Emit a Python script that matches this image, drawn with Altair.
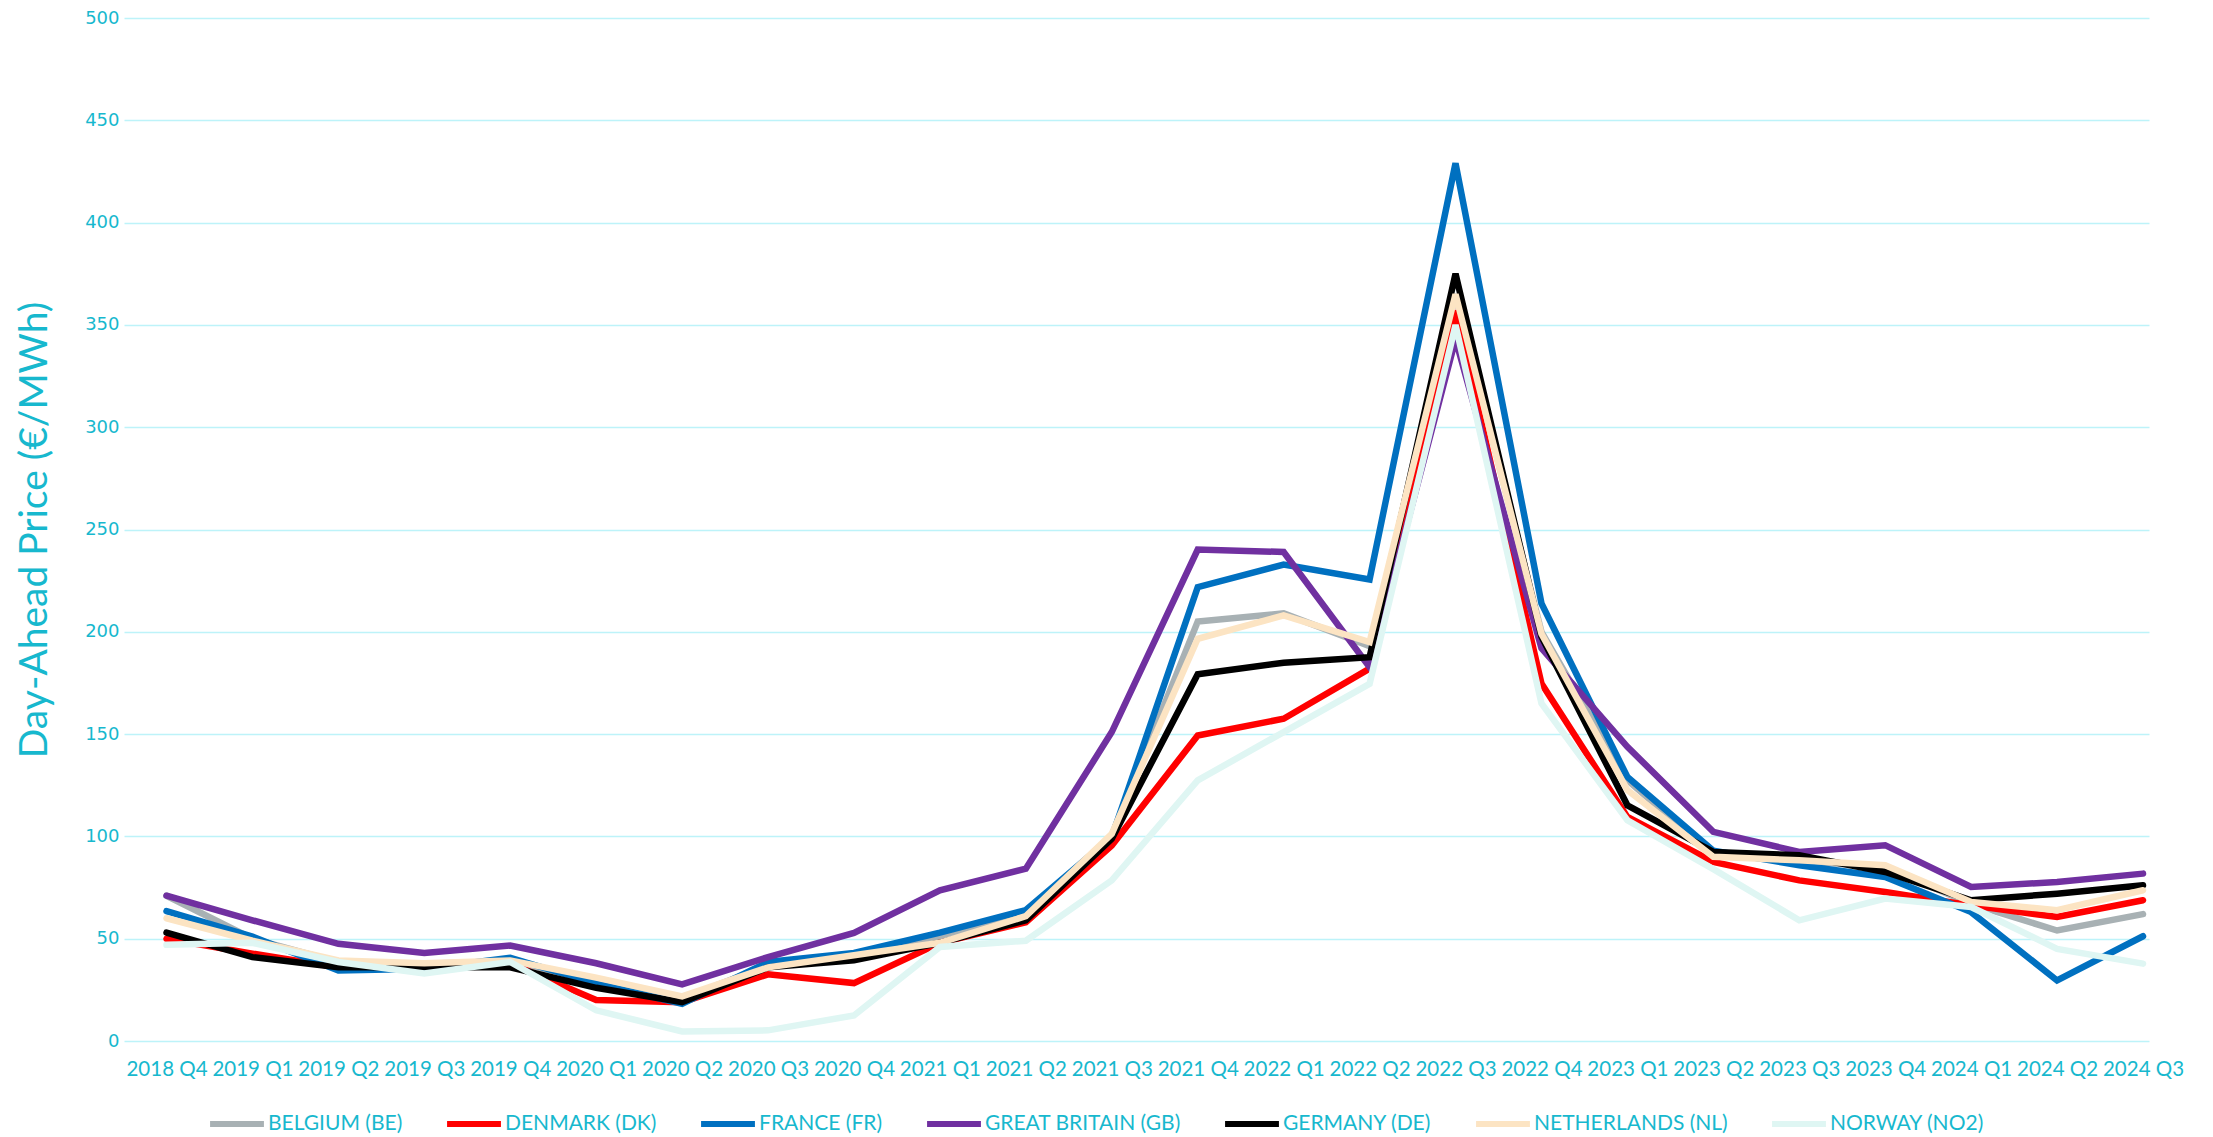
import json
import altair as alt
import pandas as pd

quarters = ["2018 Q4", "2019 Q1", "2019 Q2", "2019 Q3", "2019 Q4", "2020 Q1", "2020 Q2", "2020 Q3",
            "2020 Q4", "2021 Q1", "2021 Q2", "2021 Q3", "2021 Q4", "2022 Q1", "2022 Q2", "2022 Q3",
            "2022 Q4", "2023 Q1", "2023 Q2", "2023 Q3", "2023 Q4", "2024 Q1", "2024 Q2", "2024 Q3"]

belgium = [71, 50, 38.6, 37.8, 39, 29.6, 20.7, 37, 42, 50, 62, 100.5, 205, 209, 193, 365,
           200, 127.5, 91, 88, 85, 67, 54, 62]
denmark = [50, 42.7, 36, 36, 38, 20, 19, 32.6, 28.3, 48, 58, 95.6, 149.3, 157.5, 182, 357,
           174.7, 109.5, 87.5, 78.5, 72.8, 66.3, 60.6, 68.8]
france = [63.5, 51, 34.5, 35.3, 40.7, 28, 18.2, 38.6, 43, 53, 64, 99.7, 221.8, 232.9, 225.6, 429,
          213.9, 129, 93, 85.9, 80.2, 63, 29.6, 51.2]
great_britain = [71, 59, 47.5, 43, 46.7, 38, 27.7, 41, 52.8, 73.6, 84.2, 151, 240.2, 239, 182.7, 343,
                 192, 143.8, 102.2, 92.4, 95.7, 75.3, 77.7, 81.8]
germany = [53, 41, 36, 36, 36, 26, 19, 36, 39.4, 48, 59, 98.9, 179.2, 184.9, 187.6, 375,
           197.6, 115.2, 92.4, 90.8, 82.6, 68.8, 72, 76.1]
netherlands = [60, 49, 39.4, 38, 39.4, 31, 21.8, 36, 41.9, 48, 61, 101.3, 196.6, 208, 195, 365,
               199, 122.6, 90, 88.3, 85.9, 68, 63.9, 73.7]
norway = [47, 48, 38.6, 33, 38.6, 15, 4.7, 5.2, 12.5, 46, 49, 78.5, 127.4, 151, 174.6, 350,
          165, 107.9, 84, 59, 69.6, 65.5, 45, 37.8]

series_names = ["BELGIUM (BE)", "DENMARK (DK)", "FRANCE (FR)", "GREAT BRITAIN (GB)",
                "GERMANY (DE)", "NETHERLANDS (NL)", "NORWAY (NO2)"]
series_values = [belgium, denmark, france, great_britain, germany, netherlands, norway]
series_colors = ["#A8B1B4", "#FF0000", "#0070C0", "#7030A0", "#000000", "#FCE4C3", "#DFF6F3"]

rows = []
for name, vals in zip(series_names, series_values):
    for i, (q, v) in enumerate(zip(quarters, vals)):
        rows.append({"Index": i, "Quarter": q, "Price": v, "Country": name})
df = pd.DataFrame(rows)

TEXT = "#17B8CE"
GRID = "#BDF3F9"
FONT = "Lato, Open Sans, sans-serif"
label_expr = json.dumps(quarters) + "[datum.value]"

chart = alt.Chart(df).mark_line(strokeWidth=6.5, strokeCap="round", strokeJoin="miter").encode(
    x=alt.X("Index:Q", scale=alt.Scale(domain=[-0.4946, len(quarters) - 1 + 0.0698], nice=False, zero=False),
            axis=alt.Axis(title=None, values=list(range(len(quarters))), labelExpr=label_expr,
                          labelAngle=0, labelFont=FONT, labelFontSize=20.5, labelColor=TEXT,
                          ticks=False, domain=False, grid=False, labelFlush=False,
                          labelPadding=18, labelOverlap=False, labelBound=False)),
    y=alt.Y("Price:Q", scale=alt.Scale(domain=[0, 500], nice=False),
            axis=alt.Axis(title="Day-Ahead Price (€/MWh)", values=list(range(0, 501, 50)),
                          labelFont="DejaVu Sans", labelFontSize=18, labelColor=TEXT,
                          ticks=False, domain=False, grid=True, gridColor=GRID, gridWidth=1.6,
                          labelPadding=5, titleFont=FONT, titleFontSize=39,
                          titleFontWeight="normal", titleColor=TEXT, titleX=-90, titleY=511.5,
                          titleBaseline="middle", titleAlign="center", titleAngle=270)),
    color=alt.Color("Country:N", sort=series_names,
                    scale=alt.Scale(domain=series_names, range=series_colors),
                    legend=alt.Legend(title=None, orient="none", direction="horizontal",
                                      legendX=83, legendY=1076, columns=7,
                                      symbolType="stroke", symbolSize=2900, symbolStrokeWidth=6,
                                      labelFont=FONT, labelFontSize=21, labelColor=TEXT,
                                      labelOffset=1, columnPadding=32, labelLimit=400)),
).properties(
    width=2025, height=1023,
    autosize=alt.AutoSizeParams(type="none"),
    padding={"left": 116, "top": 10, "right": 56, "bottom": 95},
).configure(background="white", view={"stroke": None})

chart.save("out.html", embed_options={"renderer": "svg", "actions": False})
